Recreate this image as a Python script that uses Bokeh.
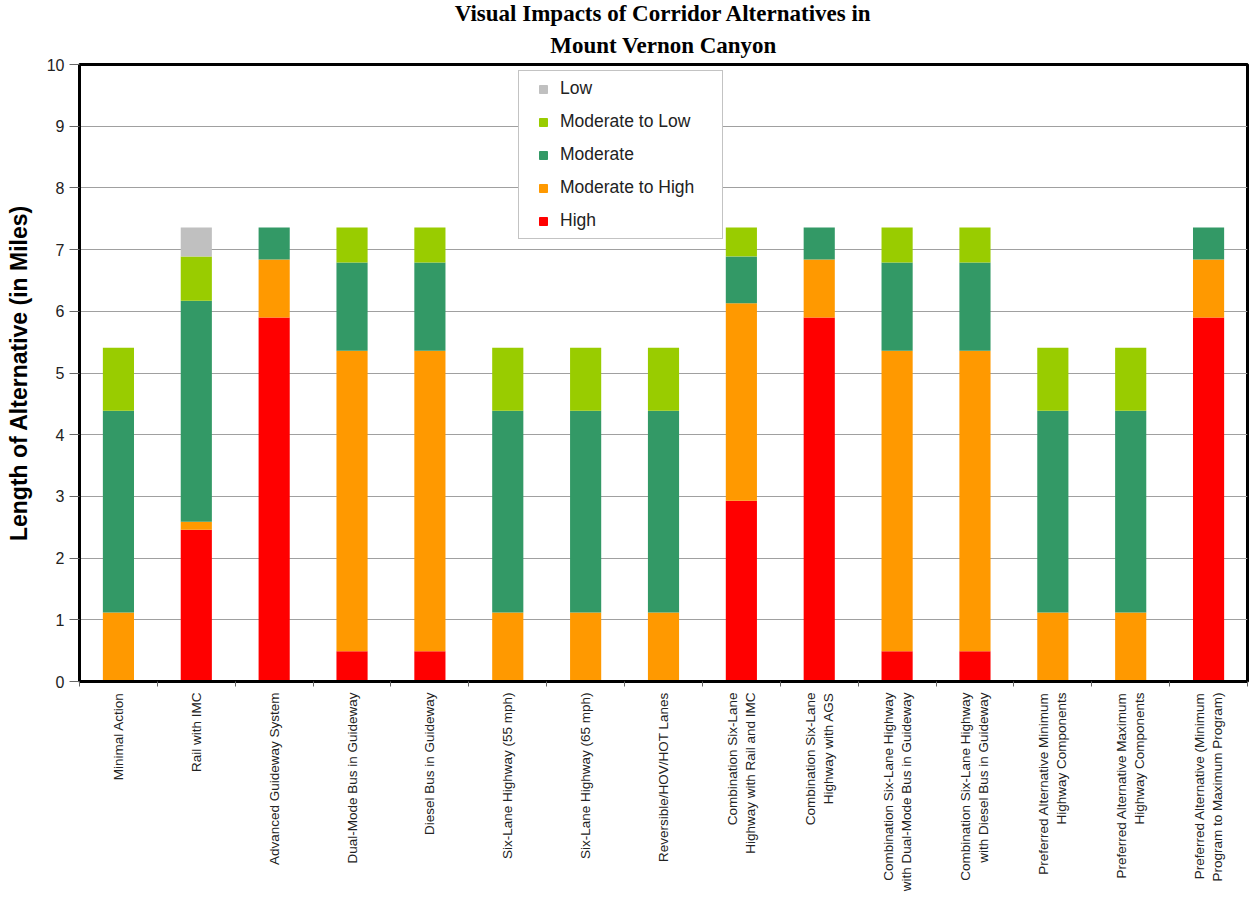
from bokeh.plotting import figure
from bokeh.models import (Range1d, FixedTicker, Legend, LegendItem, ColumnDataSource, Title)
from bokeh.embed import file_html
from bokeh.resources import INLINE
import math

categories = ["Minimal Action", "Rail with IMC", "Advanced Guideway System",
              "Dual-Mode Bus in Guideway", "Diesel Bus in Guideway",
              "Six-Lane Highway (55 mph)", "Six-Lane Highway (65 mph)",
              "Reversible/HOV/HOT Lanes",
              "Combination Six-Lane\nHighway with Rail and IMC",
              "Combination Six-Lane\nHighway with AGS",
              "Combination Six-Lane Highway\nwith Dual-Mode Bus in Guideway",
              "Combination Six-Lane Highway\nwith Diesel Bus in Guideway",
              "Preferred Alternative Minimum\nHighway Components",
              "Preferred Alternative Maximum\nHighway Components",
              "Preferred Alternative (Minimum\nProgram to Maximum Program)"]

high      = [0.00, 2.46, 5.90, 0.49, 0.49, 0.00, 0.00, 0.00, 2.93, 5.90, 0.49, 0.49, 0.00, 0.00, 5.90]
mod_high  = [1.12, 0.13, 0.94, 4.87, 4.87, 1.12, 1.12, 1.12, 3.20, 0.94, 4.87, 4.87, 1.12, 1.12, 0.94]
moderate  = [3.27, 3.58, 0.52, 1.43, 1.43, 3.27, 3.27, 3.27, 0.76, 0.52, 1.43, 1.43, 3.27, 3.27, 0.52]
mod_low   = [1.02, 0.72, 0.00, 0.57, 0.57, 1.02, 1.02, 1.02, 0.47, 0.00, 0.57, 0.57, 1.02, 1.02, 0.00]
low       = [0.00, 0.47, 0.00, 0.00, 0.00, 0.00, 0.00, 0.00, 0.00, 0.00, 0.00, 0.00, 0.00, 0.00, 0.00]

series_names = ["High", "Moderate to High", "Moderate", "Moderate to Low", "Low"]
series_keys = ["high", "mod_high", "moderate", "mod_low", "low"]
colors = ["#FF0000", "#FF9900", "#339966", "#99CC00", "#C0C0C0"]

title_lines = ["Visual Impacts of Corridor Alternatives in", "Mount Vernon Canyon"]

n = len(categories)
xs = [i + 0.5 for i in range(n)]
source = ColumnDataSource(dict(x=xs, high=high, mod_high=mod_high, moderate=moderate,
                               mod_low=mod_low, low=low))

p = figure(width=1250, height=895, output_backend="svg", toolbar_location=None,
           x_range=Range1d(0, n), y_range=Range1d(0, 10),
           min_border_left=79, min_border_right=3, min_border_top=64, min_border_bottom=214)

def style_title(t):
    t.align = "center"
    t.text_font = "Liberation Serif"
    t.text_font_size = "23px"
    t.text_font_style = "bold"
    t.text_color = "black"

p.title.text = title_lines[0]
style_title(p.title)
p.title.standoff = -5
t2 = Title(text=title_lines[1])
style_title(t2)
t2.standoff = 14
p.add_layout(t2, "above")

renderers = p.vbar_stack(series_keys, x="x", width=0.4, source=source,
                         color=colors, line_width=0)

# legend proxies (small square markers, nothing drawn in the plot)
nan = float("nan")
proxies = []
for i in range(5):
    proxies.append(p.scatter(x=[nan], y=[nan], marker="square", size=9,
                             fill_color=colors[i], line_color=colors[i]))

legend = Legend(items=[LegendItem(label=series_names[i], renderers=[proxies[i]])
                       for i in reversed(range(5))],
                location=(439, 442))
legend.label_text_font = "Liberation Sans"
legend.label_text_font_size = "17.5px"
legend.label_text_color = "#222222"
legend.glyph_width = 34
legend.glyph_height = 20
legend.label_height = 20
legend.label_standoff = 0
legend.spacing = 12
legend.padding = 7
legend.margin = 0
legend.label_width = 155
legend.border_line_color = "#888888"
legend.border_line_width = 1
legend.background_fill_alpha = 1
p.add_layout(legend, "center")

p.outline_line_color = "black"
p.outline_line_width = 3
p.background_fill_color = "white"

p.xgrid.visible = False
p.ygrid.grid_line_color = "#A0A0A0"
p.ygrid.grid_line_width = 1
p.yaxis.ticker = FixedTicker(ticks=list(range(0, 11)))
p.yaxis.axis_label = "Length of Alternative (in Miles)"
p.yaxis.axis_label_text_font = "Liberation Sans"
p.yaxis.axis_label_text_font_size = "23px"
p.yaxis.axis_label_text_font_style = "bold"
p.yaxis.axis_label_text_color = "black"
p.yaxis.axis_label_standoff = 12
p.yaxis.major_label_text_font = "Liberation Sans"
p.yaxis.major_label_text_font_size = "16px"
p.yaxis.major_label_text_color = "#222222"
p.yaxis.major_tick_out = 10
p.yaxis.major_tick_in = 0
p.yaxis.minor_tick_out = 0
p.yaxis.minor_tick_in = 0
p.yaxis.axis_line_width = 3
p.yaxis.major_tick_line_color = "#666666"

p.xaxis.ticker = FixedTicker(ticks=xs, minor_ticks=list(range(0, n + 1)))
p.xaxis.major_label_overrides = {x: c for x, c in zip(xs, categories)}
p.xaxis.major_label_orientation = math.pi / 2
p.xaxis.major_label_text_font = "Liberation Sans"
p.xaxis.major_label_text_font_size = "13.5px"
p.xaxis.major_label_text_color = "#222222"
p.xaxis.major_label_standoff = 6
p.xaxis.major_tick_out = 0
p.xaxis.major_tick_in = 0
p.xaxis.minor_tick_out = 5
p.xaxis.minor_tick_in = 0
p.xaxis.minor_tick_line_color = "#666666"
p.xaxis.axis_line_width = 3

open("out.html", "w").write(file_html(p, INLINE))
